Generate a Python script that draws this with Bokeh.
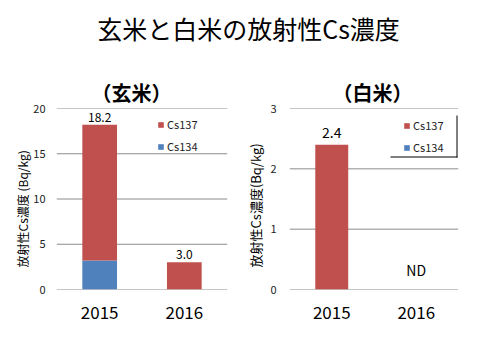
from bokeh.plotting import figure
from bokeh.models import (ColumnDataSource, FactorRange, Range1d, Legend, LegendItem, Label,
                          BoxAnnotation, Span, Title)
from bokeh.layouts import column, row
from bokeh.embed import file_html
from bokeh.resources import INLINE
from bokeh.core.properties import value

# ---- data ----
years = ["2015", "2016"]
genmai_cs134 = [3.2, 0.0]
genmai_cs137 = [15.0, 3.0]
genmai_labels = ["18.2", "3.0"]
hakumai_cs134 = [0.0, 0.0]
hakumai_cs137 = [2.4, 0.0]
hakumai_labels = ["2.4", "ND"]
genmai_ticks = [0, 5, 10, 15, 20]
hakumai_ticks = [0, 1, 2, 3]
main_title = "玄米と白米の放射性Cs濃度"
sub_titles = ["（玄米）", "（白米）"]
y_label = "放射性Cs濃度 (Bq/kg)"
y_label2 = "放射性Cs濃度(Bq/kg)"
series = ["Cs137", "Cs134"]

RED = "#C0504D"
BLUE = "#4F81BD"
FONT = "Noto Sans CJK JP"
GRID = "#8c8c8c"

# ---- title figure ----
t = figure(width=464, height=60, x_range=(0, 1), y_range=(0, 1),
           x_axis_location=None, y_axis_location=None, toolbar_location=None,
           output_backend="svg", min_border=0, outline_line_color=None)
t.grid.visible = False
t.add_layout(Label(x=248, y=33, x_units="screen", y_units="screen", text=main_title,
                   text_font=FONT, text_font_size="25px", text_align="center",
                   text_baseline="middle", text_color="#000000"))


def make_panel(c134, c137, ticks, sub, sub_offset, ylab, ylab_size, lab_standoff, tick_standoff,
               width, mb_left, mb_right, pad, bar_w, leg_x, leg_y, leg_spacing):
    ymax = ticks[-1]
    p = figure(width=width, height=284, x_range=FactorRange(*years, range_padding=pad),
               y_range=Range1d(0, ymax), toolbar_location=None, output_backend="svg",
               min_border_left=mb_left, min_border_right=mb_right,
               min_border_top=48, min_border_bottom=55, outline_line_color=None)
    p.title.text = sub
    p.title.align = "left"
    p.title.offset = sub_offset
    p.title.vertical_align = "bottom"
    p.title.standoff = 4
    p.title.text_font = FONT
    p.title.text_font_size = "20px"
    p.title.text_font_style = "bold"
    p.title.text_color = "#000000"
    p.grid.visible = False
    for tk in ticks:
        p.add_layout(Span(location=tk, dimension="width", line_color=GRID,
                          line_width=1, level="underlay"))
    src = ColumnDataSource(dict(year=years, c134=c134, c137=c137,
                                tot=[a + b for a, b in zip(c134, c137)]))
    r134 = p.vbar(x="year", top="c134", bottom=0, width=bar_w, source=src,
                  fill_color=BLUE, line_color=None)
    r137 = p.vbar(x="year", top="tot", bottom="c134", width=bar_w, source=src,
                  fill_color=RED, line_color=None)
    p.yaxis.ticker = ticks
    p.yaxis.axis_line_color = None
    p.yaxis.major_tick_line_color = None
    p.yaxis.minor_tick_line_color = None
    p.yaxis.major_tick_out = 0
    p.yaxis.major_tick_in = 0
    p.yaxis.minor_tick_out = 0
    p.yaxis.major_label_standoff = tick_standoff
    p.yaxis.major_label_text_font = FONT
    p.yaxis.major_label_text_font_size = "11px"
    p.yaxis.major_label_text_color = "#222222"
    # vertical y label as a side title so it can sit below the frame centre
    p.add_layout(Title(text=ylab, align="left", offset=22, vertical_align="bottom",
                       standoff=lab_standoff, text_font=FONT, text_font_size=ylab_size,
                       text_font_style="normal", text_color="#000000"), "left")
    p.xaxis.axis_line_color = None
    p.xaxis.major_tick_line_color = None
    p.xaxis.major_label_standoff = 10
    p.xaxis.major_label_text_font = FONT
    p.xaxis.major_label_text_font_size = "17px"
    p.xaxis.major_label_text_color = "#000000"
    leg = Legend(items=[LegendItem(label=series[0], renderers=[r137]),
                        LegendItem(label=series[1], renderers=[r134])],
                 location=(leg_x, leg_y), glyph_width=7, glyph_height=7,
                 label_height=12, label_standoff=3, spacing=leg_spacing, padding=0, margin=0,
                 border_line_color=None, background_fill_alpha=0,
                 label_text_font=FONT, label_text_font_size="11px", label_text_color="#222222")
    p.add_layout(leg)
    return p, src


p1, s1 = make_panel(genmai_cs134, genmai_cs137, genmai_ticks, sub_titles[0], 35,
                    y_label, "12px", 0, 11, 240, 56, 13, 0.01, 0.41, 101, 135, 6)
s1.data["lab"] = genmai_labels
p1.text(x="year", y="tot", text="lab", source=s1, text_align="center",
        text_baseline="bottom", y_offset=-3, text_font=value(FONT),
        text_font_size="12px", text_color="#000000")

p2, s2 = make_panel(hakumai_cs134, hakumai_cs137, hakumai_ticks, sub_titles[1], 43,
                    y_label2, "13px", 6, 13, 224, 46, 6, 0.0, 0.39, 114, 134, 6)
src_num = ColumnDataSource(dict(year=[years[0]], tot=[hakumai_cs137[0] + hakumai_cs134[0]],
                                lab=[hakumai_labels[0]]))
src_nd = ColumnDataSource(dict(year=[years[1]], tot=[hakumai_cs137[1] + hakumai_cs134[1]],
                               lab=[hakumai_labels[1]]))
p2.text(x="year", y="tot", text="lab", source=src_num, text_align="center",
        text_baseline="bottom", y_offset=-7, text_font=value(FONT),
        text_font_size="14px", text_color="#000000")
p2.text(x="year", y="tot", text="lab", source=src_nd, text_align="center",
        text_baseline="bottom", y_offset=-10, text_font=value(FONT),
        text_font_size="14px", text_color="#000000")
# legend frame lines (right and bottom only)
p2.add_layout(BoxAnnotation(left=167, right=168, bottom=132, top=174,
                            left_units="screen", right_units="screen",
                            bottom_units="screen", top_units="screen",
                            fill_color="#000000", fill_alpha=1, line_color=None))
p2.add_layout(BoxAnnotation(left=101, right=168, bottom=132, top=133,
                            left_units="screen", right_units="screen",
                            bottom_units="screen", top_units="screen",
                            fill_color="#000000", fill_alpha=1, line_color=None))

layout = column(t, row(p1, p2))
open("out.html", "w").write(file_html(layout, INLINE))
